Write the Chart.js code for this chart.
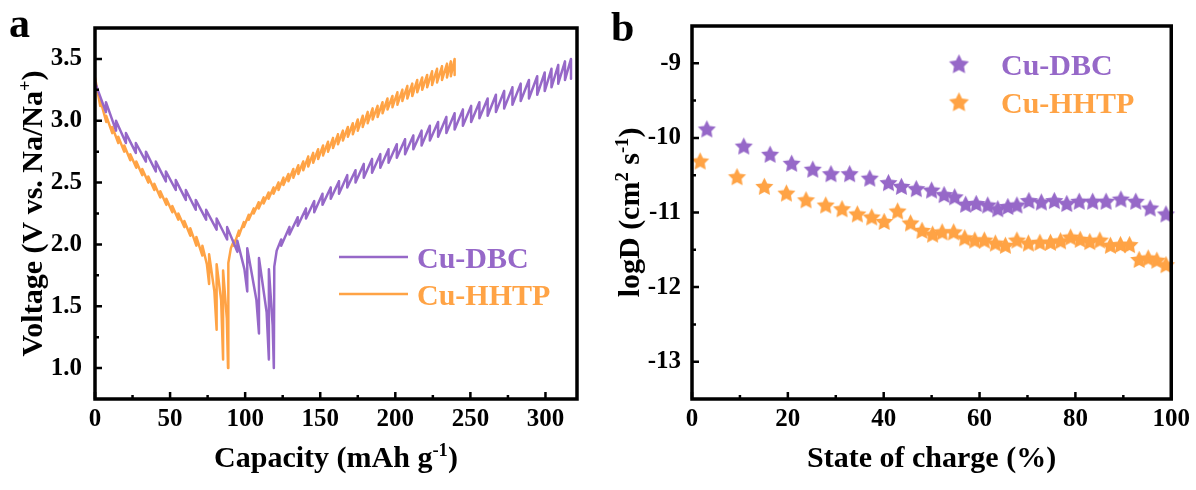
<!DOCTYPE html>
<html><head><meta charset="utf-8">
<script src="https://cdn.jsdelivr.net/npm/chart.js@4"></script>
<style>
html,body{margin:0;padding:0;background:#fff;}
#wrap{position:relative;width:1196px;height:490px;overflow:hidden;background:#fff}
canvas{position:absolute;top:0}
#ca{left:0}
#cb{left:598px}
</style></head><body>
<div id="wrap"><canvas id="ca" width="598" height="490"></canvas><canvas id="cb" width="598" height="490"></canvas></div>
<script>
// ---------- Panel a: GITT voltage profiles ----------
const seriesNames = ['Cu-DBC', 'Cu-HHTP'];

// Cu-DBC discharge: capacity, voltage at pulse end, voltage after relaxation
const dbcDisCap   = [0, 7.3, 14.0, 20.6, 27.2, 33.9, 40.5, 47.2, 53.8, 60.5, 67.1, 74.0, 81.0, 88.0, 94.8, 99.5, 101.4, 107.5, 109.2, 114.3, 115.8, 118.3, 119.1];
const dbcDisPulse = [3.31, 3.07, 2.92, 2.82, 2.74, 2.67, 2.59, 2.51, 2.44, 2.36, 2.28, 2.20, 2.12, 2.04, 1.94, 1.80, 1.62, 1.55, 1.28, 1.45, 1.07, 1.35, 1.00];
const dbcDisRest  = [null, 3.15, 3.00, 2.90, 2.82, 2.75, 2.67, 2.59, 2.52, 2.44, 2.36, 2.28, 2.21, 2.14, 2.03, null, 1.97, null, 1.89, null, 1.80, null, null];
// Cu-DBC charge
const dbcChgCap   = [119.4, 121.0, 124.0, 129.5, 135.0, 140.5, 146.0, 151.5, 157.0, 162.5, 168.0, 173.5, 179.0, 184.5, 190.0, 195.5, 201.0, 206.5, 212.0, 217.5, 223.0, 228.5, 234.0, 239.5, 245.0, 250.5, 256.0, 261.5, 267.0, 272.5, 278.0, 283.5, 289.0, 294.5, 299.5, 304.0, 308.5, 313.0, 317.0];
const dbcChgPulse = [1.82, 1.95, 2.04, 2.14, 2.22, 2.29, 2.35, 2.41, 2.46, 2.51, 2.56, 2.60, 2.65, 2.69, 2.73, 2.77, 2.81, 2.85, 2.88, 2.92, 2.96, 2.99, 3.03, 3.06, 3.09, 3.12, 3.15, 3.18, 3.21, 3.24, 3.27, 3.30, 3.33, 3.36, 3.39, 3.42, 3.45, 3.48, 3.50];
const dbcChgRest  = [null, null, 1.99, 2.08, 2.15, 2.21, 2.26, 2.32, 2.37, 2.41, 2.46, 2.50, 2.54, 2.58, 2.62, 2.66, 2.70, 2.73, 2.77, 2.80, 2.84, 2.87, 2.90, 2.93, 2.96, 2.99, 3.02, 3.04, 3.07, 3.10, 3.13, 3.16, 3.18, 3.21, 3.24, 3.27, 3.30, 3.33, 3.34];

// Cu-HHTP discharge
const hhtpDisCap   = [0, 3.5, 7.5, 11.5, 15.5, 19.5, 23.5, 27.5, 31.5, 35.5, 39.5, 43.5, 47.5, 51.5, 55.5, 59.5, 63.5, 67.5, 71.5, 74.5, 76.0, 79.5, 81.0, 84.0, 85.3, 87.8, 88.6];
const hhtpDisPulse = [3.35, 3.12, 2.99, 2.90, 2.82, 2.75, 2.68, 2.62, 2.56, 2.50, 2.44, 2.38, 2.32, 2.26, 2.20, 2.14, 2.07, 1.99, 1.91, 1.84, 1.68, 1.62, 1.31, 1.55, 1.07, 1.40, 1.00];
const hhtpDisRest  = [null, 3.17, 3.04, 2.95, 2.87, 2.80, 2.73, 2.67, 2.61, 2.55, 2.49, 2.43, 2.37, 2.31, 2.25, 2.19, 2.13, 2.06, 1.99, null, 1.92, null, 1.84, null, 1.79, null, null];
// Cu-HHTP charge
const hhtpChgCap   = [88.8, 90.5, 92.5, 95.8, 99.1, 102.4, 105.7, 109.0, 112.3, 115.6, 118.9, 122.2, 125.5, 128.8, 132.1, 135.4, 138.7, 142.0, 145.3, 148.6, 151.9, 155.2, 158.5, 161.8, 165.1, 168.4, 171.7, 175.0, 178.3, 181.6, 184.9, 188.2, 191.5, 194.8, 198.1, 201.4, 204.7, 208.0, 211.3, 214.6, 217.9, 221.2, 224.5, 227.8, 231.1, 234.4, 237.0, 239.5];
const hhtpChgPulse = [1.85, 1.97, 2.03, 2.11, 2.18, 2.24, 2.29, 2.34, 2.38, 2.42, 2.46, 2.50, 2.54, 2.57, 2.61, 2.64, 2.67, 2.71, 2.74, 2.77, 2.80, 2.83, 2.86, 2.89, 2.92, 2.95, 2.98, 3.01, 3.04, 3.07, 3.10, 3.12, 3.15, 3.18, 3.20, 3.23, 3.25, 3.28, 3.30, 3.33, 3.35, 3.37, 3.40, 3.42, 3.44, 3.46, 3.48, 3.50];
const hhtpChgRest  = [null, null, 1.99, 2.07, 2.14, 2.20, 2.25, 2.29, 2.33, 2.37, 2.41, 2.44, 2.48, 2.51, 2.54, 2.57, 2.60, 2.63, 2.66, 2.69, 2.72, 2.75, 2.78, 2.81, 2.84, 2.87, 2.89, 2.92, 2.95, 2.98, 3.01, 3.03, 3.06, 3.09, 3.11, 3.13, 3.16, 3.18, 3.20, 3.23, 3.25, 3.27, 3.29, 3.31, 3.33, 3.35, 3.36, 3.37];

const xTicksA = [0, 50, 100, 150, 200, 250, 300];
const xTickLabelsA = ['0', '50', '100', '150', '200', '250', '300'];
const yTicksA = [1.0, 1.5, 2.0, 2.5, 3.0, 3.5];
const yTickLabelsA = ['1.0', '1.5', '2.0', '2.5', '3.0', '3.5'];

// ---------- Panel b: diffusion coefficients ----------
const dbcSoc  = [3.1, 10.8, 16.3, 20.8, 25.2, 29.0, 32.9, 37.1, 41.0, 43.7, 46.8, 50.0, 52.6, 54.8, 57.1, 59.3, 61.7, 63.8, 65.9, 67.8, 70.3, 72.9, 75.6, 78.2, 80.8, 83.6, 86.4, 89.5, 92.6, 95.6, 98.9];
const dbcLogD = [-9.88, -10.11, -10.22, -10.34, -10.42, -10.48, -10.48, -10.54, -10.60, -10.65, -10.68, -10.70, -10.76, -10.79, -10.89, -10.88, -10.90, -10.95, -10.92, -10.90, -10.84, -10.86, -10.84, -10.88, -10.85, -10.85, -10.85, -10.82, -10.85, -10.94, -11.02];
const hhtpSoc  = [1.7, 9.4, 15.1, 19.7, 23.8, 27.9, 31.3, 34.5, 37.5, 40.1, 42.9, 45.6, 48.0, 50.2, 52.2, 54.6, 56.9, 59.0, 61.0, 63.3, 65.4, 67.8, 70.2, 72.6, 74.8, 76.9, 79.0, 81.0, 83.0, 85.1, 87.3, 89.4, 91.3, 93.3, 95.2, 97.0, 98.9];
const hhtpLogD = [-10.31, -10.52, -10.65, -10.74, -10.83, -10.90, -10.95, -11.02, -11.06, -11.12, -10.98, -11.14, -11.24, -11.29, -11.26, -11.26, -11.34, -11.37, -11.37, -11.41, -11.44, -11.37, -11.41, -11.40, -11.40, -11.38, -11.33, -11.36, -11.39, -11.37, -11.44, -11.43, -11.43, -11.63, -11.61, -11.64, -11.70];

const xTicksB = [0, 20, 40, 60, 80, 100];
const xTickLabelsB = ['0', '20', '40', '60', '80', '100'];
const yTicksB = [-13, -12, -11, -10, -9];
const yTickLabelsB = ['-13', '-12', '-11', '-10', '-9'];

// ---------- styling ----------
const PURPLE = '#9668C8';
const ORANGE = '#FFA345';
const FAMILY = '"Liberation Serif", "Times New Roman", serif';
const f = s => 'bold ' + s + 'px ' + FAMILY;
Chart.defaults.font.family = FAMILY;
Chart.defaults.font.weight = 'bold';

function sawtooth(cap, pulse, rest) {
  const pts = [];
  for (let i = 0; i < cap.length; i++) {
    pts.push({x: cap[i], y: pulse[i]});
    if (rest[i] !== null) pts.push({x: cap[i], y: rest[i]});
  }
  return pts;
}
function zip(xs, ys) { return xs.map((x, i) => ({x: x, y: ys[i]})); }

function starCanvas(color, R) {
  const s = Math.ceil(2 * R + 2);
  const c = document.createElement('canvas');
  c.width = s; c.height = s;
  const g = c.getContext('2d');
  g.translate(s / 2, s / 2 + R * 0.08);
  g.beginPath();
  for (let k = 0; k < 10; k++) {
    const rr = (k % 2) ? R * 0.5 : R;
    const ang = -Math.PI / 2 + k * Math.PI / 5;
    g.lineTo(rr * Math.cos(ang), rr * Math.sin(ang));
  }
  g.closePath();
  g.fillStyle = color;
  g.fill();
  return c;
}

function richWidth(ctx, parts, size) {
  let w = 0;
  parts.forEach(p => { ctx.font = f(p.sup ? size * 0.62 : size); w += ctx.measureText(p.t).width; });
  return w;
}
function drawRich(ctx, parts, cx, y, size, color) {
  const w = richWidth(ctx, parts, size);
  let x = cx - w / 2;
  ctx.fillStyle = color || '#000';
  ctx.textAlign = 'left';
  ctx.textBaseline = 'alphabetic';
  parts.forEach(p => {
    const s = p.sup ? size * 0.62 : size;
    ctx.font = f(s);
    ctx.fillText(p.t, x, p.sup ? y - size * 0.38 : y);
    x += ctx.measureText(p.t).width;
  });
}

const deco = {
  id: 'deco',
  afterDraw(chart, args, o) {
    const ctx = chart.ctx, a = chart.chartArea;
    const xs = chart.scales.x, ys = chart.scales.y;
    ctx.save();
    // inward ticks
    ctx.strokeStyle = '#000';
    ctx.lineWidth = 2.5;
    ctx.beginPath();
    const xm = o.xMajor, ym = o.yMajor;
    xm.forEach(v => { const p = xs.getPixelForValue(v); ctx.moveTo(p, a.bottom); ctx.lineTo(p, a.bottom - 7); });
    for (let i = 0; i < xm.length; i++) {
      const step = xm.length > 1 ? xm[1] - xm[0] : 0;
      const v = xm[i] + step / 2;
      if (v < xs.max) { const p = xs.getPixelForValue(v); ctx.moveTo(p, a.bottom); ctx.lineTo(p, a.bottom - 4); }
    }
    ym.forEach(v => { const p = ys.getPixelForValue(v); ctx.moveTo(a.left, p); ctx.lineTo(a.left + 7, p); });
    for (let i = -1; i < ym.length; i++) {
      const step = ym[1] - ym[0];
      const v = (i < 0 ? ym[0] : ym[i]) + (i < 0 ? -step / 2 : step / 2);
      if (v > ys.min && v < ys.max) { const p = ys.getPixelForValue(v); ctx.moveTo(a.left, p); ctx.lineTo(a.left + 4, p); }
    }
    ctx.stroke();
    // frame
    ctx.lineWidth = 3.5;
    ctx.strokeRect(a.left, a.top, a.right - a.left, a.bottom - a.top);
    // axis titles
    drawRich(ctx, o.xTitle, (a.left + a.right) / 2, 467, 30);
    ctx.save();
    ctx.translate(o.yTitleX, (a.top + a.bottom) / 2);
    ctx.rotate(-Math.PI / 2);
    drawRich(ctx, o.yTitle, 0, 0, 30);
    ctx.restore();
    // panel letter
    ctx.fillStyle = '#000';
    ctx.font = f(42);
    ctx.textAlign = 'left';
    ctx.textBaseline = 'alphabetic';
    ctx.fillText(o.letter, o.letterX, o.letterY);
    // legend
    o.legend.forEach(L => {
      if (L.line) {
        ctx.strokeStyle = L.color; ctx.lineWidth = 2.5;
        ctx.beginPath(); ctx.moveTo(L.x0, L.y); ctx.lineTo(L.x1, L.y); ctx.stroke();
      }
      if (L.star) ctx.drawImage(L.star, L.sx - L.star.width / 2, L.y - L.star.height / 2);
      ctx.fillStyle = L.color; ctx.font = f(30);
      ctx.fillText(L.text, L.tx, L.ty);
    });
    ctx.restore();
  }
};

function axisCfg(min, max, ticks, labels, isX, fitSize, pad) {
  return {
    type: 'linear', min: min, max: max,
    grid: {display: false, drawTicks: false},
    border: {display: false},
    afterBuildTicks: s => { s.ticks = ticks.map(v => ({value: v})); },
    afterFit: s => { if (isX) s.height = fitSize; else s.width = fitSize; },
    ticks: {
      color: '#000', font: {family: FAMILY, size: 25, weight: 700},
      padding: pad, maxRotation: 0, autoSkip: false,
      callback: v => labels[ticks.indexOf(v)]
    }
  };
}

Chart.register(deco);

new Chart(document.getElementById('ca'), {
  type: 'scatter',
  data: {
    datasets: [
      {label: seriesNames[0], data: sawtooth(dbcDisCap, dbcDisPulse, dbcDisRest).concat(sawtooth(dbcChgCap, dbcChgPulse, dbcChgRest)),
       showLine: true, borderColor: PURPLE, borderWidth: 2.5, pointRadius: 0, tension: 0, borderJoinStyle: 'round'},
      {label: seriesNames[1], data: sawtooth(hhtpDisCap, hhtpDisPulse, hhtpDisRest).concat(sawtooth(hhtpChgCap, hhtpChgPulse, hhtpChgRest)),
       showLine: true, borderColor: ORANGE, borderWidth: 2.5, pointRadius: 0, tension: 0, borderJoinStyle: 'round'}
    ]
  },
  options: {
    responsive: false, animation: false, devicePixelRatio: 1,
    layout: {padding: {top: 12, right: 21, left: 0, bottom: 0}},
    plugins: {
      legend: {display: false}, tooltip: {enabled: false},
      deco: {
        xMajor: xTicksA, yMajor: yTicksA,
        xTitle: [{t: 'Capacity (mAh g'}, {t: '-1', sup: true}, {t: ')'}],
        yTitle: [{t: 'Voltage (V vs. Na/Na'}, {t: '+', sup: true}, {t: ')'}],
        yTitleX: 42, letter: 'a', letterX: 9, letterY: 37,
        legend: [
          {line: true, color: PURPLE, x0: 339, x1: 408, y: 257, text: seriesNames[0], tx: 417, ty: 268},
          {line: true, color: ORANGE, x0: 339, x1: 408, y: 294, text: seriesNames[1], tx: 417, ty: 305}
        ]
      }
    },
    scales: {
      x: axisCfg(0, 321, xTicksA, xTickLabelsA, true, 91, 6),
      y: axisCfg(0.75, 3.75, yTicksA, yTickLabelsA, false, 95, 13)
    }
  }
});

const starP = starCanvas(PURPLE, 9.5), starO = starCanvas(ORANGE, 9.5);
const starPL = starCanvas(PURPLE, 10.5), starOL = starCanvas(ORANGE, 10.5);

new Chart(document.getElementById('cb'), {
  type: 'scatter',
  data: {
    datasets: [
      {label: seriesNames[0], data: zip(dbcSoc, dbcLogD), pointStyle: starP, pointRadius: 9, showLine: false, clip: false},
      {label: seriesNames[1], data: zip(hhtpSoc, hhtpLogD), pointStyle: starO, pointRadius: 9, showLine: false, clip: false}
    ]
  },
  options: {
    responsive: false, animation: false, devicePixelRatio: 1,
    layout: {padding: {top: 12, right: 24, left: 0, bottom: 0}},
    plugins: {
      legend: {display: false}, tooltip: {enabled: false},
      deco: {
        xMajor: xTicksB, yMajor: yTicksB,
        xTitle: [{t: 'State of charge (%)'}],
        yTitle: [{t: 'logD (cm'}, {t: '2', sup: true}, {t: ' s'}, {t: '-1', sup: true}, {t: ')'}],
        yTitleX: 41, letter: 'b', letterX: 13, letterY: 41,
        legend: [
          {star: starPL, sx: 361, y: 64, color: PURPLE, text: seriesNames[0], tx: 403, ty: 75},
          {star: starOL, sx: 361, y: 102, color: ORANGE, text: seriesNames[1], tx: 403, ty: 113}
        ]
      }
    },
    scales: {
      x: axisCfg(0, 100, xTicksB, xTickLabelsB, true, 91, 6),
      y: axisCfg(-13.5, -8.5, yTicksB, yTickLabelsB, false, 94, 11)
    }
  }
});
</script>
</body></html>
